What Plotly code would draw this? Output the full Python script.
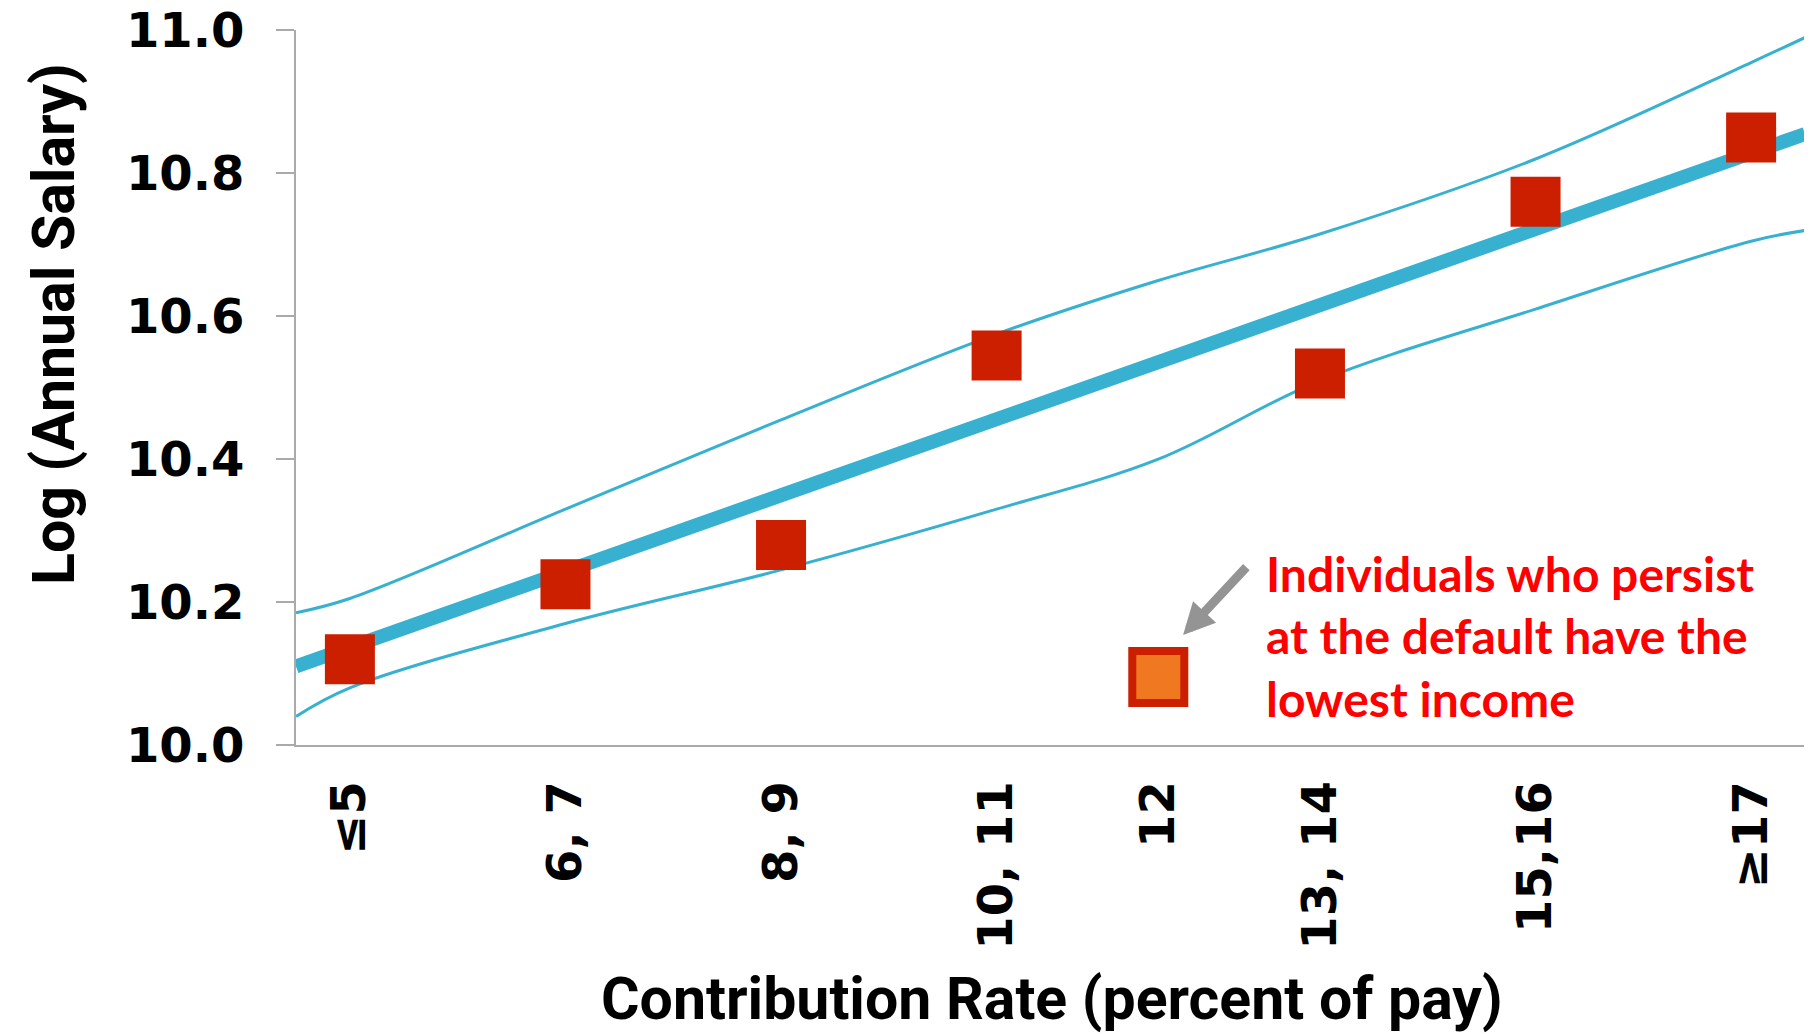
import plotly.graph_objects as go

# Category labels and their numeric positions (midpoint of contribution-rate bins)
categories = ["≤5", "6, 7", "8, 9", "10, 11", "12", "13, 14", "15,16", "≥17"]
x_pos = [4.5, 6.5, 8.5, 10.5, 12.0, 13.5, 15.5, 17.5]
log_salary = [10.12, 10.225, 10.28, 10.545, 10.095, 10.52, 10.76, 10.85]
default_idx = 4  # the "12" bin (default rate)

# Fitted line and confidence bands
fit_x = [4.0, 18.0]
fit_y = [10.11, 10.855]
band_x = [4.0, 4.5, 6.5, 8.5, 10.5, 12.0, 13.5, 15.5, 17.5, 18.0]
upper_y = [10.185, 10.205, 10.33, 10.455, 10.575, 10.65, 10.715, 10.82, 10.955, 10.99]
lower_y = [10.04, 10.08, 10.17, 10.245, 10.33, 10.40, 10.51, 10.61, 10.705, 10.72]

y_ticks = [10.0, 10.2, 10.4, 10.6, 10.8, 11.0]

LINE = "#38B0D0"
RED = "#CC1F00"
ORANGE = "#F07820"
TICKFONT = dict(family="DejaVu Sans", size=48, color="black", weight="bold")
TITLEFONT = dict(family="Liberation Sans Narrow, Roboto, sans-serif", size=59, color="black", weight="bold")

W, H = 1812, 1036
L, R, T, B = 288, 15, 22, 299
pw, ph = W - L - R, H - T - B


def px_to_paper(px, py):
    return (px - L) / pw, (H - py - B) / ph


fig = go.Figure()
fig.add_trace(go.Scatter(x=band_x, y=upper_y, mode="lines", line=dict(color=LINE, width=3, shape="spline"),
                         hoverinfo="skip", showlegend=False))
fig.add_trace(go.Scatter(x=band_x, y=lower_y, mode="lines", line=dict(color=LINE, width=3, shape="spline"),
                         hoverinfo="skip", showlegend=False))
fig.add_trace(go.Scatter(x=fit_x, y=fit_y, mode="lines", line=dict(color=LINE, width=14),
                         hoverinfo="skip", showlegend=False))

reg_x = [x for i, x in enumerate(x_pos) if i != default_idx]
reg_y = [y for i, y in enumerate(log_salary) if i != default_idx]
fig.add_trace(go.Scatter(x=reg_x, y=reg_y, mode="markers",
                         marker=dict(symbol="square", size=50, color=RED, line=dict(width=0)),
                         showlegend=False))
fig.add_trace(go.Scatter(x=[x_pos[default_idx]], y=[log_salary[default_idx]], mode="markers",
                         marker=dict(symbol="square", size=52, color=ORANGE, line=dict(width=8, color=RED)),
                         showlegend=False))

fig.add_annotation(x=12.23, y=10.154, ax=12.83, ay=10.251, xref="x", yref="y", axref="x", ayref="y",
                   showarrow=True, arrowhead=2, arrowsize=0.7, arrowwidth=9, arrowcolor="#949494", text="")
fig.add_annotation(x=12.98, y=10.152, xref="x", yref="y", xanchor="left", yanchor="middle", align="left",
                   showarrow=False,
                   text="Individuals who persist<br>at the default have the<br>lowest income",
                   font=dict(family="Lato, sans-serif", size=48, color="#FF0000", weight="bold"))

# axis titles
yt_x, yt_y = px_to_paper(45, 316)
fig.add_annotation(x=yt_x, y=yt_y, xref="paper", yref="paper", xanchor="center", yanchor="middle",
                   text="Log (Annual Salary)", showarrow=False, textangle=-90, font=TITLEFONT)
xt_x, xt_y = px_to_paper(1044, 990)
fig.add_annotation(x=xt_x, y=xt_y, xref="paper", yref="paper", xanchor="center", yanchor="middle",
                   text="Contribution Rate (percent of pay)", showarrow=False, font=TITLEFONT)

fig.add_shape(type="line", xref="paper", yref="paper", x0=1, x1=1, y0=0, y1=1,
              line=dict(color="#AAAAAA", width=2))

fig.update_layout(
    width=W, height=H, margin=dict(l=L, r=R, t=T, b=B, autoexpand=False),
    paper_bgcolor="white", plot_bgcolor="white",
    xaxis=dict(range=[4, 18], tickvals=x_pos, ticktext=categories, tickangle=-90, automargin=False,
               showgrid=False, zeroline=False, showline=True, linecolor="#AAAAAA", linewidth=2,
               ticks="", tickfont=TICKFONT, ticklabelstandoff=15),
    yaxis=dict(range=[10, 11.0005], tickvals=y_ticks, ticktext=[f"{v:.1f}" for v in y_ticks],
               automargin=False,
               showgrid=False, zeroline=False, showline=True, linecolor="#AAAAAA", linewidth=2,
               ticks="outside", ticklen=18, tickcolor="#AAAAAA", tickwidth=2,
               tickfont=TICKFONT, ticklabelstandoff=22, ticklabeloverflow="allow"),
)

fig.write_html("out.html")
